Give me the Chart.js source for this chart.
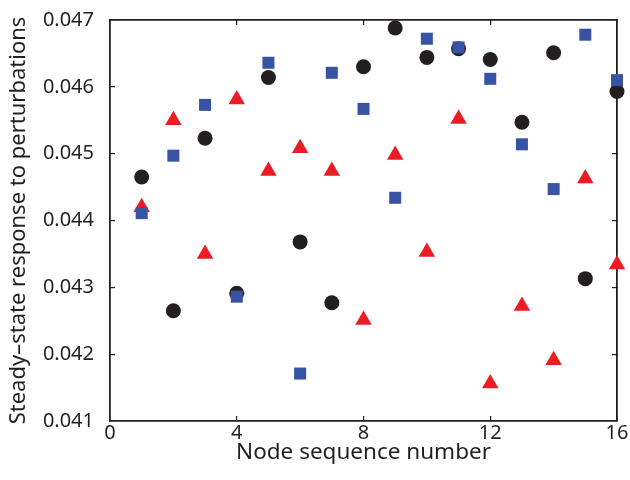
<!DOCTYPE html>
<html>
<head>
<meta charset="utf-8">
<script src="https://cdn.jsdelivr.net/npm/chart.js@4"></script>
<style>
  html, body { margin: 0; padding: 0; background: #fff; }
  #wrap { width: 630px; height: 480px; }
</style>
</head>
<body>
<div id="wrap"><canvas id="chart" width="630" height="480"></canvas></div>
<script>
const nodes = [1, 2, 3, 4, 5, 6, 7, 8, 9, 10, 11, 12, 13, 14, 15, 16];
const circleVals = [0.04465, 0.04265, 0.04523, 0.04291, 0.04614, 0.04368, 0.04277, 0.04630,
                    0.04688, 0.04644, 0.04657, 0.04641, 0.04547, 0.04651, 0.04313, 0.04593];
const squareVals = [0.04411, 0.04497, 0.04573, 0.04286, 0.04636, 0.04171, 0.04621, 0.04567,
                    0.04434, 0.04672, 0.04659, 0.04612, 0.04514, 0.04447, 0.04678, 0.04610];
const triangleVals = [0.04420, 0.04550, 0.04350, 0.04581, 0.04474, 0.04508, 0.04474, 0.04251,
                      0.04498, 0.04353, 0.04552, 0.04156, 0.04272, 0.04191, 0.04463, 0.04334];
const xTicks = [0, 4, 8, 12, 16];
const yTicks = [0.041, 0.042, 0.043, 0.044, 0.045, 0.046, 0.047];

const toPts = vals => nodes.map((n, i) => ({ x: n, y: vals[i] }));
const FONT = "'Noto Sans', sans-serif";
const INK = "#231f20";

// inward tick marks (negative tickLength), no grid inside the plot
const gridOpts = { display: true, drawOnChartArea: false, drawTicks: true, tickLength: -5,
                   color: INK, lineWidth: 1.2 };
const borderOpts = { display: true, color: INK, width: 1.8 };

// fixed axis sizes, no extra label padding so the plot box lands where the layout says
const fitX = h => s => { s.height = h; s.paddingLeft = 0; s.paddingRight = 0; };
const fitY = w => s => { s.width = w; s.paddingTop = 0; s.paddingBottom = 0; };

new Chart(document.getElementById("chart"), {
  type: "scatter",
  data: {
    datasets: [
      { label: "squares", data: toPts(squareVals), pointStyle: "rect", pointRadius: 8.5,
        backgroundColor: "#3953a4", borderWidth: 0, order: 1, clip: false },
      { label: "triangles", data: toPts(triangleVals), pointStyle: "triangle", pointRadius: 9.5,
        backgroundColor: "#ed1c24", borderWidth: 0, order: 2, clip: false },
      { label: "circles", data: toPts(circleVals), pointStyle: "circle", pointRadius: 7.5,
        backgroundColor: INK, borderWidth: 0, order: 3, clip: false }
    ]
  },
  options: {
    responsive: false,
    animation: false,
    events: [],
    layout: { padding: { top: 20, right: 13, left: 6, bottom: 14 } },
    plugins: { legend: { display: false }, tooltip: { enabled: false } },
    scales: {
      x: {
        type: "linear", position: "bottom", min: 0, max: 16,
        afterBuildTicks: s => { s.ticks = xTicks.map(v => ({ value: v })); },
        afterFit: fitX(45),
        grid: gridOpts, border: borderOpts,
        ticks: { color: INK, padding: 5, font: { family: FONT, size: 20 } },
        title: { display: true, text: "Node sequence number", color: INK, padding: 0,
                 font: { family: FONT, size: 22.5 } }
      },
      xTop: {
        type: "linear", position: "top", min: 0, max: 16,
        afterBuildTicks: s => { s.ticks = xTicks.map(v => ({ value: v })); },
        afterFit: fitX(0),
        grid: gridOpts, border: borderOpts,
        ticks: { display: false }
      },
      y: {
        type: "linear", position: "left", min: 0.041, max: 0.047,
        afterBuildTicks: s => { s.ticks = yTicks.map(v => ({ value: v })); },
        afterFit: fitY(104),
        grid: gridOpts, border: borderOpts,
        ticks: { color: INK, padding: 21, font: { family: FONT, size: 20 },
                 callback: v => v.toFixed(3) },
        title: { display: true, text: "Steady–state response to perturbations", color: INK,
                 padding: 0, font: { family: FONT, size: 22 } }
      },
      yRight: {
        type: "linear", position: "right", min: 0.041, max: 0.047,
        afterBuildTicks: s => { s.ticks = yTicks.map(v => ({ value: v })); },
        afterFit: fitY(0),
        grid: gridOpts, border: borderOpts,
        ticks: { display: false }
      }
    }
  }
});
</script>
</body>
</html>
